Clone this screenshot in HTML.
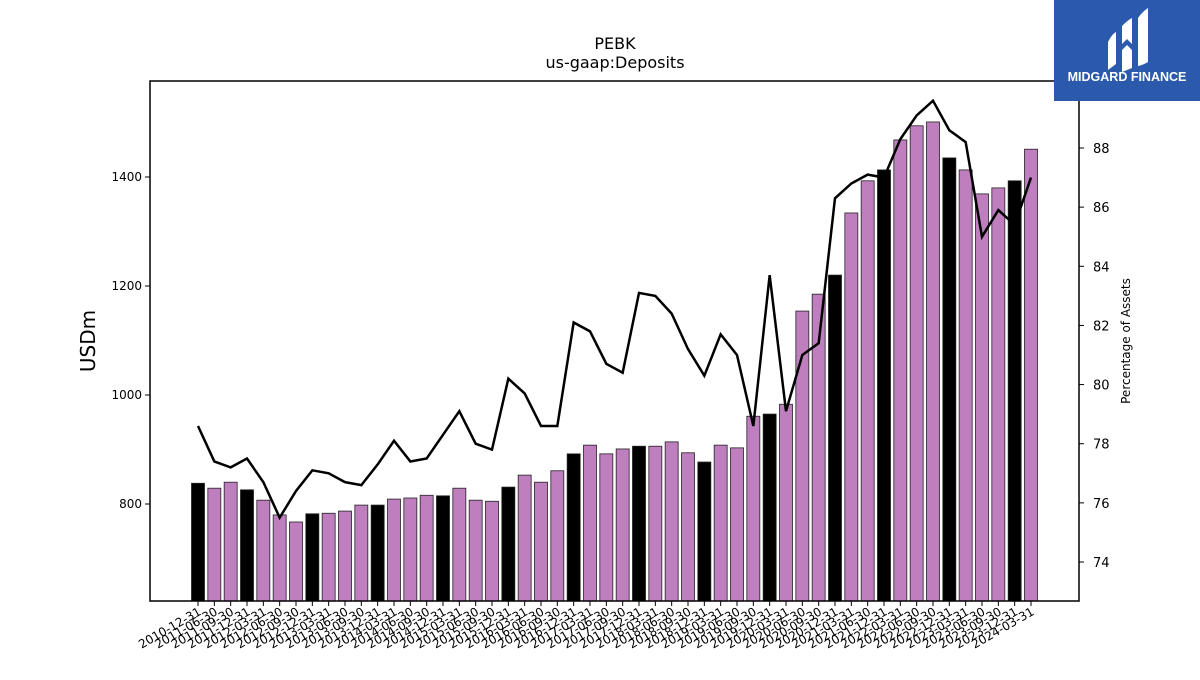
<!DOCTYPE html>
<html><head><meta charset="utf-8">
<style>
body{margin:0;background:#fff;font-family:"Liberation Sans","DejaVu Sans",sans-serif;}
svg text{font-family:"DejaVu Sans","Liberation Sans",sans-serif;}
</style></head>
<body>
<svg width="1200" height="675" viewBox="0 0 1200 675">
<text x="615" y="49" font-size="16" text-anchor="middle">PEBK</text>
<text x="615" y="68" font-size="16" text-anchor="middle">us-gaap:Deposits</text>
<g id="bars"></g>
<g id="line"></g>
<rect x="150" y="81" width="929" height="520" fill="none" stroke="#000" stroke-width="1.5"/>
<g id="axes"></g>
<text transform="translate(95,341) rotate(-90)" font-size="20" text-anchor="middle">USDm</text>
<text transform="translate(1130,341) rotate(-90)" font-size="12" text-anchor="middle">Percentage of Assets</text>
<g>
<rect x="1054" y="0" width="146" height="101" fill="#2b5aad"/>
<path d="M1108 42 q4-8 8-10 v32 q-4 3-8 6z M1122 26 q6-6 10-8 v26 l-5 -5 -5 5z M1122 50 l5-5 5 5 v18 q-5 2-10 4z M1138 18 q4-6 10-10 v54 q-5 3-10 4z" fill="#fff"/>
<text x="1127" y="81" font-size="12.5" font-weight="bold" fill="#fff" text-anchor="middle" style="font-family:'Liberation Sans',sans-serif">MIDGARD FINANCE</text>
</g>
</svg>
<script>
const dates=["2010-12-31","2011-06-30","2011-09-30","2011-12-31","2012-03-31","2012-06-30","2012-09-30","2012-12-31","2013-03-31","2013-06-30","2013-09-30","2013-12-31","2014-03-31","2014-06-30","2014-09-30","2014-12-31","2015-03-31","2015-06-30","2015-09-30","2015-12-31","2016-03-31","2016-06-30","2016-09-30","2016-12-31","2017-03-31","2017-06-30","2017-09-30","2017-12-31","2018-03-31","2018-06-30","2018-09-30","2018-12-31","2019-03-31","2019-06-30","2019-09-30","2019-12-31","2020-03-31","2020-06-30","2020-09-30","2020-12-31","2021-03-31","2021-06-30","2021-12-31","2022-03-31","2022-06-30","2022-09-30","2022-12-31","2023-03-31","2023-06-30","2023-09-30","2023-12-31","2024-03-31"];
const deposits=[838,829,840,826,807,780,767,782,783,787,798,798,809,811,816,815,829,807,805,831,853,840,861,892,908,892,901,906,906,914,894,877,908,903,961,965,983,1154,1185,1220,1334,1393,1413,1468,1494,1501,1435,1413,1369,1380,1393,1451];
const pctAssets=[78.6,77.4,77.2,77.5,76.7,75.5,76.4,77.1,77.0,76.7,76.6,77.3,78.1,77.4,77.5,78.3,79.1,78.0,77.8,80.2,79.7,78.6,78.6,82.1,81.8,80.7,80.4,83.1,83.0,82.4,81.2,80.3,81.7,81.0,78.6,83.7,79.1,81.0,81.4,86.3,86.8,87.1,87.0,88.3,89.1,89.6,88.6,88.2,85.0,85.9,85.4,87.0];
const leftTicks=[800,1000,1200,1400];
const rightTicks=[74,76,78,80,82,84,86,88];
const NS="http://www.w3.org/2000/svg";
const x=i=>198+i*(1031-198)/(dates.length-1);
const yL=v=>504-(v-800)*109/200;
const yR=v=>148+(88-v)*414/14;
const bw=13;
function mk(t,a,p){const e=document.createElementNS(NS,t);for(const k in a)e.setAttribute(k,a[k]);p.appendChild(e);return e;}
const bars=document.getElementById('bars'),line=document.getElementById('line'),axes=document.getElementById('axes');
deposits.forEach((v,i)=>{
 const b=mk('rect',{x:x(i)-bw/2,y:yL(v),width:bw,height:601-yL(v),fill:dates[i].endsWith('12-31')?'#000':'#bf7fbf',stroke:'#222','stroke-width':0.8},bars);
 
 
});
const pl=mk('polyline',{points:pctAssets.map((v,i)=>x(i)+','+yR(v)).join(' '),fill:'none',stroke:'#000','stroke-width':2.5},line);


leftTicks.forEach(v=>{
 mk('line',{x1:145,x2:150,y1:yL(v),y2:yL(v),stroke:'#000'},axes);
 const t=mk('text',{x:142,y:yL(v)+4,'font-size':12,'text-anchor':'end'},axes);t.textContent=v;
 
 
});
rightTicks.forEach(v=>{
 mk('line',{x1:1079,x2:1084,y1:yR(v),y2:yR(v),stroke:'#000'},axes);
 const t=mk('text',{x:1093,y:yR(v)+5,'font-size':13},axes);t.textContent=v;
 
 
});
dates.forEach((d,i)=>{
 mk('line',{x1:x(i),x2:x(i),y1:601,y2:606,stroke:'#000'},axes);
 const t=mk('text',{transform:`translate(${x(i)+4},${614}) rotate(-30)`,'font-size':12,'text-anchor':'end'},axes);t.textContent=d;
 
 
});
</script>
</body></html>
